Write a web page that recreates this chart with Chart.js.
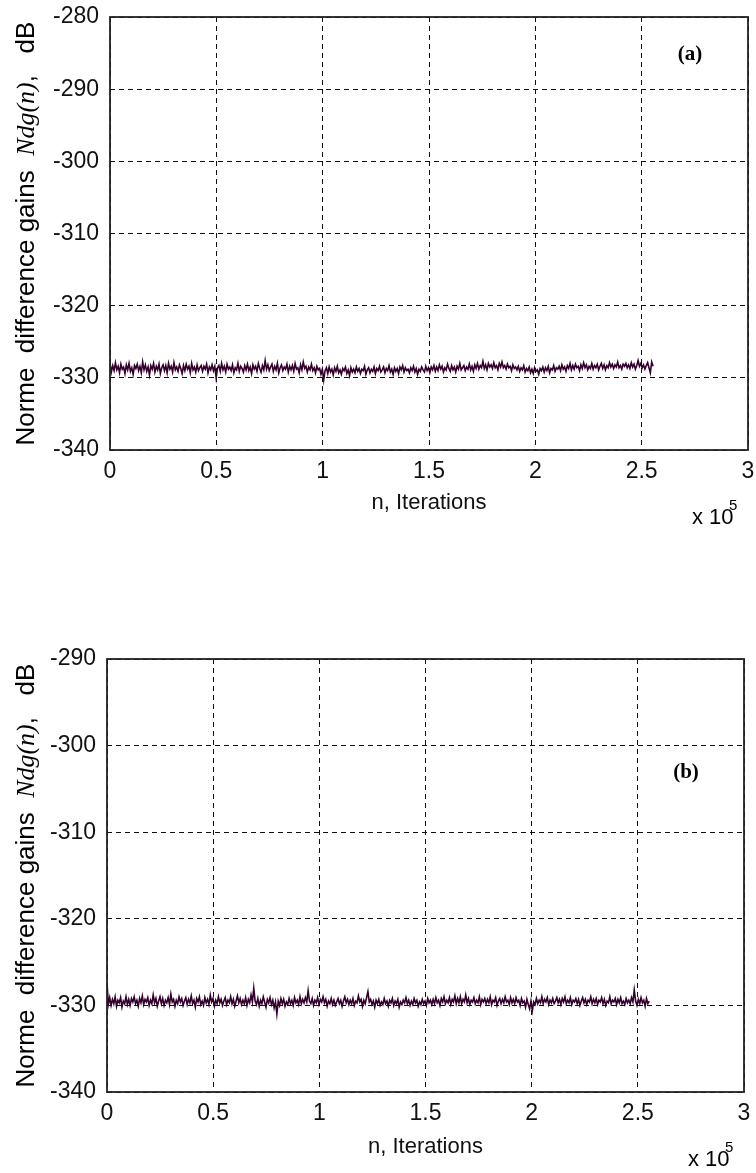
<!DOCTYPE html>
<html>
<head>
<meta charset="utf-8">
<title>Norme difference gains</title>
<script src="https://cdn.jsdelivr.net/npm/chart.js@4.4.1/dist/chart.umd.min.js"></script>
<style>
  body { margin: 0; background: #fff; width: 756px; height: 1173px; position: relative; overflow: hidden; }
  .panel { position: absolute; left: 0; width: 756px; }
</style>
</head>
<body>
<div class="panel" style="top:0; height:545px"><canvas id="chartA"></canvas></div>
<div class="panel" style="top:620px; height:553px"><canvas id="chartB"></canvas></div>

<script>
// one sample every 640 iterations
const sampleStep = 640;
const xTicks = [0, 0.5, 1, 1.5, 2, 2.5, 3];

// (a) Ndg(n) in dB
const ndgA = [
  -328.0, -329.2, -328.3, -329.0, -327.9, -328.9, -328.4, -329.3, -328.1, -328.8,
  -328.5, -329.4, -328.2, -328.9, -328.0, -329.1, -328.6, -329.5, -328.3, -328.7,
  -328.1, -329.0, -328.4, -329.3, -327.8, -328.9, -328.2, -329.1, -328.5, -329.6,
  -328.3, -328.8, -328.0, -329.2, -328.4, -328.9, -328.1, -329.4, -328.6, -328.2,
  -329.0, -328.3, -329.3, -328.0, -328.8, -328.4, -329.2, -327.9, -328.9, -328.5,
  -329.1, -328.2, -328.7, -329.4, -328.3, -329.0, -328.1, -328.8, -328.4, -329.3,
  -328.0, -328.9, -328.5, -329.2, -328.2, -329.0, -328.6, -328.3, -329.1, -328.4,
  -328.8, -328.1, -329.3, -328.5, -328.9, -328.2, -329.0, -328.4, -330.0, -328.6,
  -328.3, -329.1, -328.0, -328.9, -328.4, -329.2, -328.1, -328.8, -328.5, -329.0,
  -328.2, -329.3, -328.6, -328.9, -328.0, -329.1, -328.4, -328.7, -329.2, -328.3,
  -328.9, -328.1, -329.0, -328.5, -329.4, -328.2, -328.8, -328.4, -329.1, -328.0,
  -328.7, -329.2, -328.3, -328.9, -327.6, -328.8, -328.2, -329.0, -328.5, -328.1,
  -329.1, -328.4, -328.9, -328.0, -329.3, -328.6, -328.2, -329.0, -328.5, -328.8,
  -328.1, -329.2, -328.4, -328.9, -328.3, -329.1, -328.0, -328.8, -328.6, -329.3,
  -328.2, -328.9, -327.8, -328.7, -328.4, -329.2, -328.5, -328.9, -328.1, -329.0,
  -328.6, -329.3, -328.4, -328.9, -328.7, -329.5, -328.8, -330.3, -329.0, -328.6,
  -329.4, -328.5, -329.2, -328.8, -329.6, -328.6, -329.1, -328.4, -329.3, -328.9,
  -329.5, -328.7, -329.0, -328.5, -329.4, -328.9, -329.7, -328.6, -329.2, -328.8,
  -329.3, -328.5, -329.1, -328.7, -329.4, -328.8, -329.0, -328.4, -329.5, -328.9,
  -328.6, -329.3, -328.8, -329.1, -328.5, -329.4, -328.7, -329.0, -328.4, -329.2,
  -328.9, -328.5, -329.3, -328.7, -329.0, -328.3, -329.2, -328.8, -329.5, -328.6,
  -329.1, -328.7, -329.4, -328.5, -328.9, -328.3, -329.2, -328.6, -329.0, -328.8,
  -329.3, -328.6, -329.0, -328.4, -329.2, -328.7, -329.5, -328.8, -329.1, -328.5,
  -328.9, -329.2, -328.4, -329.0, -328.6, -329.3, -328.5, -328.9, -328.3, -329.1,
  -328.5, -329.0, -328.2, -328.8, -328.4, -329.2, -328.6, -328.9, -328.1, -328.7,
  -329.1, -328.3, -328.9, -328.5, -329.2, -328.4, -328.8, -328.0, -328.9, -328.6,
  -328.3, -329.0, -328.5, -328.8, -328.1, -328.9, -328.4, -329.1, -328.2, -328.7,
  -328.0, -328.8, -328.3, -328.6, -327.7, -328.7, -328.2, -328.9, -328.0, -328.5,
  -328.2, -328.7, -327.9, -328.6, -328.3, -328.9, -328.0, -328.5, -327.8, -328.6,
  -328.3, -328.8, -328.1, -328.6, -328.4, -329.0, -328.2, -328.7, -328.5, -328.9,
  -328.4, -329.1, -328.6, -328.9, -328.3, -329.2, -328.7, -329.0, -328.5, -329.3,
  -328.8, -329.4, -328.6, -329.1, -328.9, -329.5, -328.7, -329.0, -328.5, -329.2,
  -328.6, -329.0, -328.4, -329.3, -328.7, -328.9, -328.3, -329.1, -328.6, -328.8,
  -328.4, -329.0, -328.2, -328.8, -328.5, -329.1, -328.3, -328.7, -328.0, -328.9,
  -328.3, -328.8, -328.1, -328.6, -328.4, -329.0, -328.2, -328.7, -327.9, -328.6,
  -328.2, -328.9, -328.4, -328.7, -328.0, -328.8, -328.3, -328.6, -328.1, -328.9,
  -328.4, -328.0, -328.7, -328.2, -328.9, -328.3, -328.6, -327.9, -328.5, -328.1,
  -328.7, -328.2, -328.5, -327.8, -328.6, -328.3, -328.8, -328.1, -328.4, -328.0,
  -328.6, -328.2, -328.7, -327.9, -328.5, -328.1, -328.8, -328.3, -327.6, -328.4,
  -328.0, -328.6, -328.2, -328.8, -328.3, -327.9, -328.6, -329.3, -327.8, -328.4
];

// (b) Ndg(n) in dB
const ndgB = [
  -327.4, -329.9, -329.1, -330.0, -329.3, -329.8, -329.0, -330.1, -329.4, -329.7,
  -329.1, -330.2, -329.5, -329.8, -329.0, -329.9, -329.3, -330.0, -329.2, -329.6,
  -329.0, -329.8, -329.4, -330.1, -329.2, -329.7, -328.9, -329.9, -329.3, -329.6,
  -329.1, -330.0, -329.4, -329.8, -328.8, -329.7, -329.2, -330.1, -329.5, -329.0,
  -329.8, -329.2, -330.0, -329.4, -329.7, -329.1, -329.9, -328.7, -329.6, -329.3,
  -330.1, -329.4, -329.8, -329.0, -329.6, -329.2, -330.0, -329.5, -329.1, -329.9,
  -329.3, -329.7, -328.9, -329.8, -329.4, -330.2, -329.2, -329.6, -329.0, -329.9,
  -329.5, -330.0, -329.1, -329.7, -329.3, -329.9, -328.8, -329.6, -329.2, -330.1,
  -329.4, -329.8, -329.0, -329.7, -329.3, -330.0, -329.5, -329.1, -329.9, -329.4,
  -329.7, -329.0, -329.8, -329.3, -330.1, -329.5, -328.9, -329.7, -329.2, -329.9,
  -329.4, -329.8, -329.1, -330.0, -329.3, -329.7, -328.8, -329.6, -328.0, -329.5,
  -329.9, -329.2, -330.1, -329.4, -329.8, -329.0, -329.6, -330.2, -329.3, -329.7,
  -329.1, -329.9, -329.4, -330.3, -329.6, -331.0, -329.5, -330.0, -329.2, -329.8,
  -329.3, -330.1, -329.6, -329.9, -329.2, -329.8, -329.4, -330.0, -329.1, -329.7,
  -329.4, -329.9, -329.0, -329.8, -329.3, -329.7, -329.1, -329.6, -328.3, -329.5,
  -329.8, -329.2, -330.0, -329.4, -329.7, -329.1, -329.9, -329.3, -329.6, -329.0,
  -329.7, -329.3, -330.1, -329.5, -329.8, -329.2, -329.9, -329.4, -330.0, -329.6,
  -329.2, -329.8, -329.4, -330.1, -329.5, -329.0, -329.7, -329.3, -329.9, -329.4,
  -329.8, -329.2, -330.0, -329.5, -329.7, -328.9, -329.6, -329.3, -330.1, -329.4,
  -329.8, -329.1, -328.4, -329.6, -329.3, -329.9, -329.5, -330.2, -329.4, -329.8,
  -329.3, -330.0, -329.6, -329.9, -329.2, -329.8, -329.5, -330.1, -329.4, -329.7,
  -329.2, -330.0, -329.5, -329.8, -329.3, -330.2, -329.6, -329.9, -329.4, -329.7,
  -329.1, -329.8, -329.4, -330.0, -329.5, -329.9, -329.2, -329.7, -329.4, -330.1,
  -329.6, -329.9, -329.3, -329.8, -329.5, -330.0, -329.2, -329.7, -329.4, -329.9,
  -329.3, -329.8, -329.1, -329.7, -329.4, -330.0, -329.2, -329.6, -329.0, -329.8,
  -329.4, -329.7, -329.1, -329.9, -329.3, -329.6, -328.9, -329.8, -329.2, -329.7,
  -329.0, -329.8, -329.3, -329.6, -328.8, -329.7, -329.2, -329.9, -329.4, -329.6,
  -329.1, -329.8, -329.4, -329.7, -329.0, -329.9, -329.3, -329.6, -329.2, -329.8,
  -329.3, -329.7, -329.0, -329.9, -329.4, -329.6, -329.1, -330.0, -329.5, -329.2,
  -329.8, -329.3, -329.7, -329.0, -329.6, -329.4, -329.9, -329.1, -329.7, -329.3,
  -329.8, -329.1, -329.6, -329.4, -330.0, -329.2, -329.7, -329.5, -330.2, -329.3,
  -329.9, -330.4, -329.5, -330.6, -329.6, -329.9, -329.2, -329.8, -329.4, -329.7,
  -329.0, -329.8, -329.3, -329.6, -329.1, -329.9, -329.4, -329.7, -329.2, -329.8,
  -329.5, -329.1, -329.7, -329.3, -329.9, -329.2, -329.6, -329.0, -329.8, -329.4,
  -329.7, -329.1, -329.9, -329.4, -329.6, -329.2, -329.8, -329.3, -330.0, -329.5,
  -329.1, -329.7, -329.3, -329.9, -329.4, -329.6, -329.0, -329.8, -329.3, -329.7,
  -329.2, -329.9, -329.4, -329.6, -329.1, -329.8, -329.3, -330.0, -329.5, -329.7,
  -329.0, -329.8, -329.4, -329.6, -329.2, -329.9, -329.3, -329.7, -329.1, -329.8,
  -329.5, -329.9, -329.2, -329.7, -329.4, -329.8, -329.1, -329.6, -328.2, -329.5,
  -330.0, -329.3, -329.8, -329.1, -329.7, -329.4, -330.1, -329.2, -329.8, -329.5
];

const yTicksA = [-340, -330, -320, -310, -300, -290, -280];
const yTicksB = [-340, -330, -320, -310, -300, -290];

const sans = '"Liberation Sans", Arial, sans-serif';
const serif = '"Liberation Serif", "Times New Roman", serif';

// frame, panel tag, x10^5 multiplier and the mixed-font y label
const panelDecor = {
  id: 'panelDecor',
  afterDraw(chart, args, opts) {
    const { ctx, chartArea: a } = chart;
    ctx.save();
    ctx.setLineDash([]);
    ctx.strokeStyle = '#222';
    ctx.lineWidth = 1.8;
    ctx.strokeRect(a.left, a.top, a.right - a.left, a.bottom - a.top);

    ctx.fillStyle = '#000';
    ctx.textBaseline = 'middle';
    ctx.textAlign = 'center';
    ctx.font = 'bold 21px ' + serif;
    ctx.fillText(opts.tag, a.right - 58, a.top + opts.tagDy);

    ctx.textAlign = 'left';
    ctx.font = '22px ' + sans;
    ctx.fillText('x 10', a.right - 56, a.bottom + 68);
    ctx.font = '15px ' + sans;
    ctx.fillText('5', a.right - 19, a.bottom + 56);

    // y axis label, rotated
    const parts = [
      { t: 'Norme  difference gains  ', f: sans, s: '' },
      { t: 'Ndg(n)', f: serif, s: 'italic ' },
      { t: ',   dB', f: sans, s: '' }
    ];
    const span = 424;
    const measure = (sz) => parts.reduce((w, p) => {
      ctx.font = p.s + sz + 'px ' + p.f;
      return w + ctx.measureText(p.t).width;
    }, 0);
    const size = 22 * span / measure(22);
    const cy = (a.top + a.bottom) / 2;
    ctx.translate(34, cy);
    ctx.rotate(-Math.PI / 2);
    ctx.textBaseline = 'alphabetic';
    let x = -span / 2;
    parts.forEach(p => {
      ctx.font = p.s + size + 'px ' + p.f;
      ctx.fillText(p.t, x, 0);
      x += ctx.measureText(p.t).width;
    });
    ctx.restore();
  }
};

function makeChart(id, values, yTicks, box) {
  const points = values.map((v, i) => ({ x: i * sampleStep, y: v }));
  return new Chart(document.getElementById(id), {
    type: 'line',
    data: {
      datasets: [{
        data: points,
        borderColor: '#33002d',
        borderWidth: 1.6,
        pointRadius: 0,
        tension: 0
      }]
    },
    options: {
      responsive: true,
      maintainAspectRatio: false,
      animation: false,
      layout: { padding: { top: box.top, right: box.right, left: 0, bottom: box.bottom } },
      plugins: {
        legend: { display: false },
        tooltip: { enabled: false },
        panelDecor: { tag: box.tag, tagDy: box.tagDy }
      },
      scales: {
        x: {
          type: 'linear',
          min: 0,
          max: 300000,
          afterBuildTicks: s => { s.ticks = xTicks.map(v => ({ value: v * 1e5 })); },
          afterFit: s => { s.height = box.xAxis; s.paddingLeft = 0; s.paddingRight = 0; },
          ticks: {
            callback: v => String(v / 1e5),
            color: '#111',
            padding: 8,
            maxRotation: 0,
            font: { family: sans, size: 23 }
          },
          grid: { color: '#111', lineWidth: 1, drawTicks: false },
          border: { display: false, dash: [5, 4] },
          title: {
            display: true,
            text: 'n, Iterations',
            color: '#111',
            padding: 0,
            font: { family: sans, size: 22 }
          }
        },
        y: {
          min: yTicks[0],
          max: yTicks[yTicks.length - 1],
          afterBuildTicks: s => { s.ticks = yTicks.map(v => ({ value: v })); },
          afterFit: s => { s.width = box.yAxis; s.paddingTop = 0; s.paddingBottom = 0; },
          ticks: {
            color: '#111',
            padding: 11,
            font: { family: sans, size: 23 }
          },
          grid: { color: '#111', lineWidth: 1, drawTicks: false },
          border: { display: false, dash: [5, 4] }
        }
      }
    },
    plugins: [panelDecor]
  });
}

makeChart('chartA', ndgA, yTicksA, { top: 17, right: 8, bottom: 29, yAxis: 110, xAxis: 66, tag: '(a)', tagDy: 38 });
makeChart('chartB', ndgB, yTicksB, { top: 39, right: 12, bottom: 13, yAxis: 107, xAxis: 68, tag: '(b)', tagDy: 114 });
</script>
</body>
</html>
